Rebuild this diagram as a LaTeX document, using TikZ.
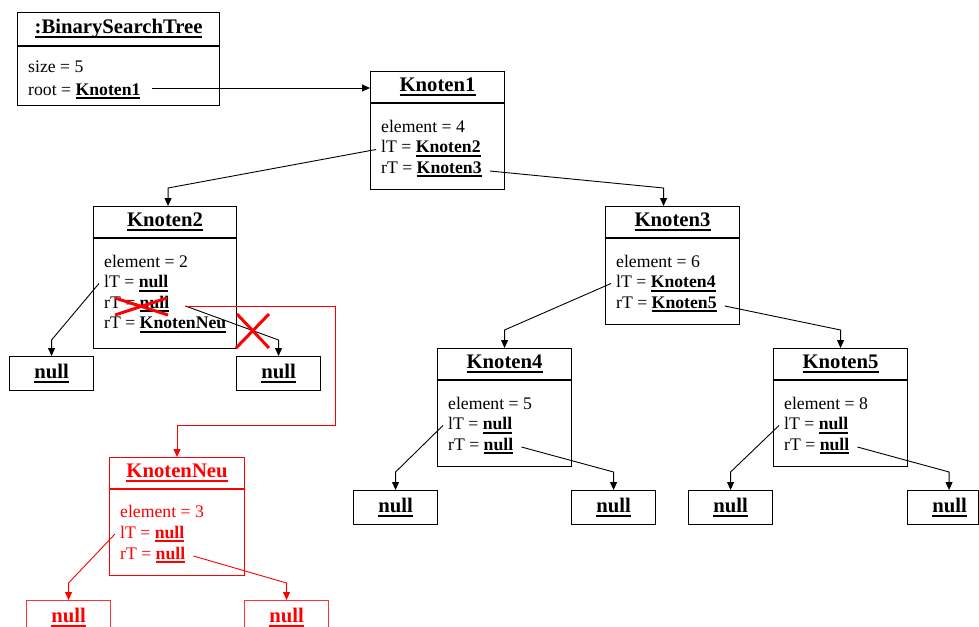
\documentclass[tikz,border=0pt]{standalone}
\usepackage{fontspec}
\setmainfont{Liberation Serif}
\usetikzlibrary{arrows.meta, positioning, calc}
% underline with a thicker rule
\newcommand{\uln}[1]{\setbox0\hbox{#1}\leavevmode\rlap{\rule[-4pt]{\wd0}{1.8pt}}\box0}

\begin{document}
\begin{tikzpicture}[
  x=1pt, y=-1pt,
  every node/.style={font=\fontsize{17.7}{20.5}\selectfont},
  obj/.style={draw, line width=1.1pt, anchor=north west, minimum width=134pt, minimum height=118pt, inner sep=0pt},
  nullbox/.style={draw, line width=1.1pt, anchor=north west, minimum width=84pt, minimum height=34pt, inner sep=0pt, font=\fontsize{20.7}{24}\selectfont\bfseries},
  headtext/.style={font=\fontsize{20.7}{24}\selectfont\bfseries},
  attr/.style={anchor=base west, inner sep=0pt},
  link/.style={-{Triangle[length=8pt,width=7pt]}, line width=0.9pt},
  xmark/.style={red, line width=3pt}
]
  \useasboundingbox (0,0) rectangle (979,626);
  \clip (0,0) rectangle (979,626);
  \fill[white] (0,0) rectangle (979,626);

  % Tree object
  \node[obj, minimum width=202pt, minimum height=93pt] (bst) at (17,12) {};
  \draw[line width=1.1pt] ($(bst.north west)+(0,34)$) -- ($(bst.north east)+(0,34)$);
  \node[headtext] at ($(bst.north)+(0,17)$) {\uln{:BinarySearchTree}};
  \node[attr] (bst-s) at ($(bst.north west)+(11,61)$) {size = 5};
  \node[attr] (bst-r) at ($(bst-s.base west)+(0,22)$) {root = \uln{\textbf{Knoten1}}};

  % Knoten objects
  \foreach \n/\x/\y/\ttl/\val/\lft/\rgt in {k1/370/71/Knoten1/4/Knoten2/Knoten3, k3/605/206/Knoten3/6/Knoten4/Knoten5, k4/437/348/Knoten4/5/null/null, k5/773/348/Knoten5/8/null/null} {
    \node[obj] (\n) at (\x,\y) {};
    \draw[line width=1.1pt] ($(\n.north west)+(0,32)$) -- ($(\n.north east)+(0,32)$);
    \node[headtext] at ($(\n.north)+(0,16)$) {\uln{\ttl}};
    \node[attr] (\n-e) at ($(\n.north west)+(11,61)$) {element = \val};
    \node[attr] (\n-l) at ($(\n-e.base west)+(0,20.5)$) {lT = \uln{\textbf{\lft}}};
    \node[attr] (\n-r) at ($(\n-l.base west)+(0,20.5)$) {rT = \uln{\textbf{\rgt}}};
  }

  % Knoten2 with the changed link
  \node[obj, minimum width=143pt, minimum height=142pt] (k2) at (93,206) {};
  \draw[line width=1.1pt] ($(k2.north west)+(0,32)$) -- ($(k2.north east)+(0,32)$);
  \node[headtext] at ($(k2.north)+(0,16)$) {\uln{Knoten2}};
  \node[attr] (k2-e) at ($(k2.north west)+(11,61)$) {element = 2};
  \node[attr] (k2-l) at ($(k2-e.base west)+(0,20.5)$) {lT = \uln{\textbf{null}}};
  \node[attr] (k2-r) at ($(k2-l.base west)+(0,20.5)$) {rT = \uln{\textbf{null}}};
  \node[attr] (k2-n) at ($(k2-r.base west)+(0,20.5)$) {rT = \uln{\textbf{KnotenNeu}}};

  % new object
  \node[obj, red, minimum width=135pt] (kn) at (109,457) {};
  \draw[red, line width=1.1pt] ($(kn.north west)+(0,32)$) -- ($(kn.north east)+(0,32)$);
  \node[headtext, red] at ($(kn.north)+(0,16)$) {\uln{KnotenNeu}};
  \node[attr, red] (kn-e) at ($(kn.north west)+(11,60)$) {element = 3};
  \node[attr, red] (kn-l) at ($(kn-e.base west)+(0,21)$) {lT = \uln{\textbf{null}}};
  \node[attr, red] (kn-r) at ($(kn-l.base west)+(0,21)$) {rT = \uln{\textbf{null}}};

  % null leaves
  \foreach \n/\x/\y in {n2l/9/356, n2r/236/356, n4l/353/490, n4r/571/490, n5l/688/490}
    \node[nullbox] (\n) at (\x,\y) {\uln{null}};
  \node[nullbox, minimum width=71pt] (n5r) at (907,490) {\hspace*{13pt}\uln{null}};
  \foreach \n/\x in {nnl/26, nnr/244}
    \node[nullbox, red, draw=red!80] (\n) at (\x,600) {\uln{null}};

  % links
  \coordinate (rootout) at ($(bst-r.base east)+(11,-7)$);
  \draw[link] (rootout) -- (rootout -| k1.west);
  \draw[link] ($(k1-l.base west)+(-5,-3)$) -- ($(k2.north)+(3,-18)$) -- ($(k2.north)+(3,0)$);
  \draw[link] ($(k1-r.base east)+(8,-2)$) -- ($(k3.north)+(-9,-18)$) -- ($(k3.north)+(-9,0)$);
  \draw[link] ($(k2-l.base west)+(-5,-4)$) -- ($(n2l.north)+(0,-16)$) -- (n2l.north);
  \draw[link] ($(k2-r.base east)+(16,-2)$) -- ($(n2r.north)+(0,-16)$) -- (n2r.north);
  \draw[link] ($(k3-l.base west)+(-5,-4)$) -- ($(k4.north)+(0,-18)$) -- (k4.north);
  \draw[link] ($(k3-r.base east)+(8,-2)$) -- ($(k5.north)+(0,-18)$) -- (k5.north);
  \draw[link] ($(k4-l.base west)+(-5,-4)$) -- ($(n4l.north)+(0,-18)$) -- (n4l.north);
  \draw[link] ($(k4-r.base east)+(8,-3)$) -- ($(n4r.north)+(0,-18)$) -- (n4r.north);
  \draw[link] ($(k5-l.base west)+(-5,-4)$) -- ($(n5l.north)+(0,-18)$) -- (n5l.north);
  \draw[link] ($(k5-r.base east)+(8,-3)$) -- ($(n5r.north)+(6,-18)$) -- ($(n5r.north)+(6,0)$);
  \draw[link, red] ($(kn-l.base west)+(-5,-4)$) -- ($(nnl.north)+(0,-17)$) -- (nnl.north);
  \draw[link, red] ($(kn-r.base east)+(8,-3)$) -- ($(nnr.north)+(0,-17)$) -- (nnr.north);
  \draw[link, red] ($(k2-r.base east)+(16,-2)$) -- ++(150,0) |- ($(kn.north)+(0,-32)$) -- (kn.north);

  % crossed out
  \draw[xmark] (115,298) -- (168,315) (115,315) -- (167,298);
  \draw[xmark] (236,348) -- (269,314) (237,314) -- (269,348);
\end{tikzpicture}
\end{document}
